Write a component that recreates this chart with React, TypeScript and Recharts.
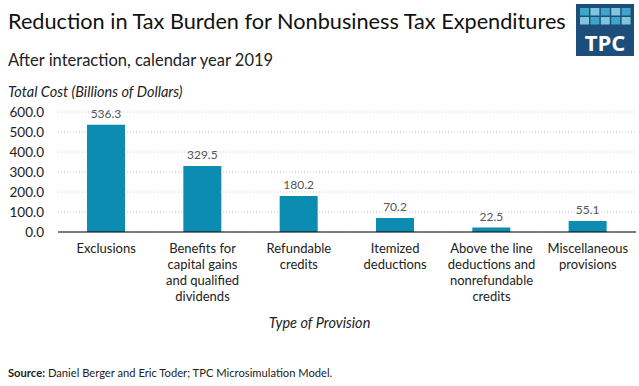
import React from "react";
import { BarChart, Bar, XAxis, YAxis, CartesianGrid, LabelList } from "recharts";

const categories = [
  "Exclusions",
  "Benefits for\ncapital gains\nand qualified\ndividends",
  "Refundable\ncredits",
  "Itemized\ndeductions",
  "Above the line\ndeductions and\nnonrefundable\ncredits",
  "Miscellaneous\nprovisions",
];
const values = [536.3, 329.5, 180.2, 70.2, 22.5, 55.1];
const yTicks = [0, 100, 200, 300, 400, 500, 600];

const data = categories.map((c, i) => ({ name: c, value: values[i] }));

const FONT = "Lato, 'Open Sans', sans-serif";

const XTick = (props: any) => {
  const { x, y, payload } = props;
  const lines = String(payload.value).split("\n");
  return (
    <g transform={`translate(${x},${y})`}>
      {lines.map((l: string, i: number) => (
        <text key={i} x={0} y={13 + i * 16} textAnchor="middle" fill="#222" fontSize={13} fontFamily={FONT}>
          {l}
        </text>
      ))}
    </g>
  );
};

const Logo = () => (
  <div style={{ position: "absolute", left: 576, top: 4, width: 58, height: 52, background: "#1d4e7a" }}>
    <svg width={58} height={52}>
      {[0, 1].map((r) =>
        [0, 1, 2, 3, 4].map((c) => (
          <rect key={`${r}-${c}`} x={4 + c * 10.4} y={4 + r * 9} width={9} height={7.5}
            fill={(r + c) % 2 === 0 ? "#3ea6c8" : "#7ec5dd"} />
        ))
      )}
      <text x={29} y={47} textAnchor="middle" fill="#fff" fontSize={22} fontWeight={700} fontFamily="'Open Sans', sans-serif">TPC</text>
    </svg>
  </div>
);

export default function App() {
  return (
    <div style={{ position: "absolute", left: 0, top: 0, width: 639, height: 386, background: "#fff", fontFamily: FONT }}>
      <div style={{ position: "absolute", left: 8, top: 8, fontSize: 21.7, color: "#111", whiteSpace: "nowrap" }}>
        Reduction in Tax Burden for Nonbusiness Tax Expenditures
      </div>
      <div style={{ position: "absolute", left: 8, top: 50, fontSize: 16.5, color: "#222", whiteSpace: "nowrap" }}>
        After interaction, calendar year 2019
      </div>
      <div style={{ position: "absolute", left: 8, top: 83, fontSize: 14.5, fontStyle: "italic", color: "#222", whiteSpace: "nowrap" }}>
        Total Cost (Billions of Dollars)
      </div>
      <Logo />
      <BarChart width={639} height={386} data={data} margin={{ top: 112, right: 3, left: 0, bottom: 124 }}
        style={{ position: "absolute", left: 0, top: 0 }}>
        <CartesianGrid vertical={false} stroke="#c8c8c8" strokeDasharray="1 2" />
        <YAxis domain={[0, 600]} ticks={yTicks} width={58} axisLine={false} tickLine={false}
          tickFormatter={(v: number) => v.toFixed(1)}
          tick={{ fill: "#222", fontSize: 13.5, fontFamily: FONT }} tickMargin={8} interval={0} />
        <XAxis dataKey="name" axisLine={{ stroke: "#000", strokeWidth: 1.2 }} tickLine={false}
          tick={<XTick />} interval={0} />
        <Bar dataKey="value" fill="#0b8cb0" barSize={38} isAnimationActive={false}>
          <LabelList dataKey="value" position="top" offset={7} fill="#555" fontSize={12} fontFamily={FONT}
            formatter={(v: any) => Number(v).toFixed(1)} />
        </Bar>
      </BarChart>
      <div style={{ position: "absolute", left: 0, width: 639, top: 314, textAlign: "center", fontSize: 14.5, fontStyle: "italic", color: "#222" }}>
        Type of Provision
      </div>
      <div style={{ position: "absolute", left: 8, top: 366, fontSize: 11.2, color: "#222", whiteSpace: "nowrap" }}>
        <b>Source:</b> Daniel Berger and Eric Toder; TPC Microsimulation Model.
      </div>
    </div>
  );
}
